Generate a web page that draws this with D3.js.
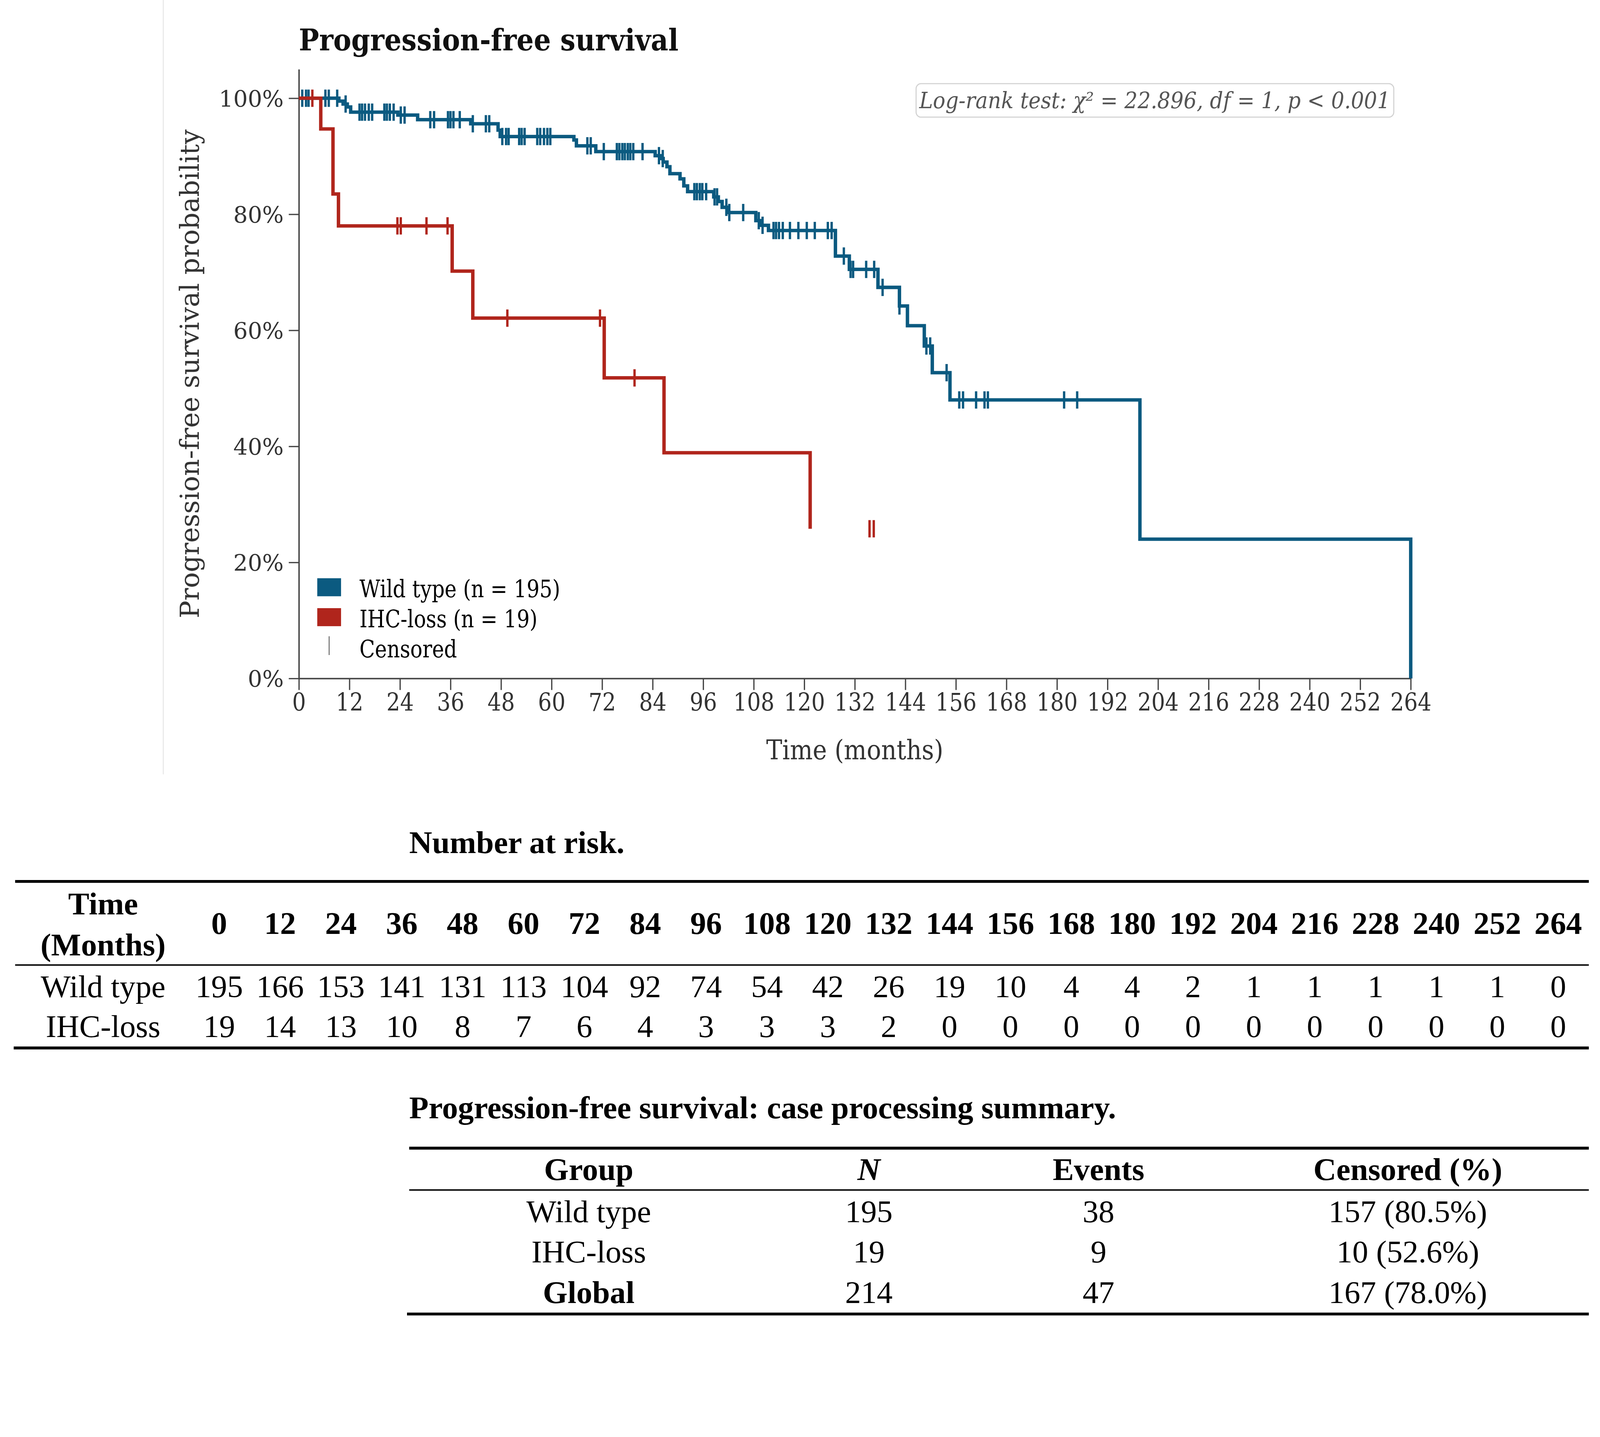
<!DOCTYPE html>
<html>
<head>
<meta charset="utf-8">
<script src="https://cdn.jsdelivr.net/npm/d3@7"></script>
<style>
  html, body { margin: 0; padding: 0; background: #fff; overflow: hidden; }
  svg { display: block; width: 100vw; height: 100vh; }
  .chart text { font-family: 'DejaVu Serif', serif; }
  .tbl text { font-family: 'Liberation Serif', 'Times New Roman', serif; fill: #000; }
</style>
</head>
<body>
<script>
// ---- data ----
// Kaplan-Meier steps: [month, survival after the event]
const wildSteps = [
  [9.5, 0.995], [10.5, 0.990], [11.5, 0.985], [12.3, 0.976], [23.5, 0.971],
  [28.2, 0.963], [40.8, 0.956], [47.3, 0.945], [47.8, 0.934], [65.3, 0.928],
  [65.9, 0.918], [70.5, 0.908], [84.6, 0.901], [85.8, 0.896], [86.5, 0.890],
  [87.4, 0.882], [88.1, 0.870], [90.5, 0.861], [91.4, 0.849], [92.3, 0.839],
  [98.5, 0.830], [99.6, 0.822], [100.5, 0.812], [101.8, 0.803], [108.5, 0.789],
  [109.7, 0.781], [111.5, 0.772], [127.4, 0.728], [130.7, 0.705], [137.5, 0.674],
  [142.6, 0.642], [144.5, 0.608], [148.5, 0.573], [150.4, 0.527], [154.6, 0.480],
  [199.7, 0.240], [264, 0]
]
const wildCensored = [
  0.8, 1.7, 2.3, 6.3, 7.1, 9.1, 11.1, 14.4, 15.0, 15.7, 16.6, 17.4, 20.3, 20.9,
  21.6, 22.5, 24.2, 25.1, 31.2, 32.1, 35.4, 36.0, 36.7, 38.2, 41.3, 44.4, 45.2,
  48.3, 49.2, 49.8, 52.3, 52.9, 53.6, 56.6, 57.3, 58.2, 59.0, 59.7, 68.5, 69.3,
  72.4, 75.5, 76.1, 76.8, 77.4, 78.1, 78.7, 79.4, 81.6, 85.5, 86.4, 93.9, 94.5,
  95.2, 95.8, 96.7, 98.7, 99.3, 101.5, 102.2, 105.5, 109.2, 110.1, 112.7, 113.3,
  114.0, 114.9, 116.6, 118.6, 120.6, 122.5, 125.6, 126.5, 129.4, 131.0, 131.6,
  134.7, 136.6, 138.6, 142.6, 149.0, 149.9, 153.8, 156.8, 157.7, 160.8, 162.8,
  163.6, 181.7, 184.8
]
const ihcSteps = [
  [5.2, 0.947], [8.1, 0.835], [9.4, 0.780], [36.4, 0.702], [41.3, 0.621],
  [72.5, 0.518], [86.7, 0.389], [121.4, 0.258]
]
const ihcCensored = [3.2, 23.4, 24.2, 30.3, 35.3, 49.5, 71.5, 79.7, 135.5, 136.5]

const timeTicks = [0, 12, 24, 36, 48, 60, 72, 84, 96, 108, 120, 132, 144, 156, 168, 180, 192, 204, 216, 228, 240, 252, 264]
const survTicks = [0, 0.2, 0.4, 0.6, 0.8, 1.0]

const riskWild = [195, 166, 153, 141, 131, 113, 104, 92, 74, 54, 42, 26, 19, 10, 4, 4, 2, 1, 1, 1, 1, 1, 0]
const riskIhc = [19, 14, 13, 10, 8, 7, 6, 4, 3, 3, 3, 2, 0, 0, 0, 0, 0, 0, 0, 0, 0, 0, 0]

const summaryGroups = ['Wild type', 'IHC-loss', 'Global']
const summaryN = [195, 19, 214]
const summaryEvents = [38, 9, 47]
const summaryCensored = ['157 (80.5%)', '10 (52.6%)', '167 (78.0%)']

const groups = [
  { name: 'Wild type (n = 195)', color: '#0b5a80', steps: wildSteps, censored: wildCensored },
  { name: 'IHC-loss (n = 19)', color: '#b0251c', steps: ihcSteps, censored: ihcCensored }
]

// ---- drawing ----
const W = 4438, H = 3679
const svg = d3.select('body').append('svg')
  .attr('viewBox', `0 0 ${W} ${H}`)
  .attr('preserveAspectRatio', 'xMinYMin meet')

// the figure's text looks horizontally squeezed
function squeezed(g, px, py, sx) {
  return g.append('text').attr('transform', `translate(${px},${py}) scale(${sx},1)`)
}

// faint edge of the pasted figure
svg.append('line')
  .attr('x1', 453).attr('x2', 453).attr('y1', 0).attr('y2', 2148)
  .attr('stroke', '#e8e8e8').attr('stroke-width', 3)

const chart = svg.append('g').attr('class', 'chart')
const x = d3.scaleLinear().domain([0, 264]).range([829, 3913])
const y = d3.scaleLinear().domain([0, 1.05]).range([1882, 192])

function survAt(steps, t) {
  let s = 1
  for (const [tt, v] of steps) { if (tt <= t) s = v }
  return s
}

squeezed(chart, 829, 140, 0.89)
  .attr('font-size', 84).attr('font-weight', 'bold').attr('fill', '#111')
  .text('Progression-free survival')

// axes
const xAxis = chart.append('g')
  .attr('transform', `translate(0,${y(0)})`)
  .call(d3.axisBottom(x).tickValues(timeTicks).tickSize(32).tickSizeOuter(0).tickPadding(10))
const yAxis = chart.append('g')
  .attr('transform', `translate(${x(0)},0)`)
  .call(d3.axisLeft(y).tickValues(survTicks).tickFormat(d3.format('.0%')).tickSize(28).tickSizeOuter(0).tickPadding(14))

for (const ax of [xAxis, yAxis]) {
  ax.select('.domain').attr('stroke', '#444').attr('stroke-width', 4)
  ax.selectAll('.tick line').attr('stroke', '#444').attr('stroke-width', 3.5)
  ax.selectAll('.tick text').attr('fill', '#333').attr('font-family', null)
}
xAxis.selectAll('.tick text').attr('font-size', 68).attr('transform', 'scale(0.88,1)')
yAxis.selectAll('.tick text').attr('font-size', 63).attr('dy', '0.36em')

squeezed(chart, 2371, 2106, 0.9)
  .attr('text-anchor', 'middle').attr('font-size', 74).attr('fill', '#333')
  .text('Time (months)')

chart.append('text')
  .attr('transform', 'translate(552,1037) rotate(-90)')
  .attr('text-anchor', 'middle').attr('font-size', 73).attr('fill', '#333')
  .text('Progression-free survival probability')

// survival curves
const line = d3.line().x(d => x(d[0])).y(d => y(d[1])).curve(d3.curveStepAfter)

groups.forEach(g => {
  const pts = [[0, 1]].concat(g.steps)
  chart.append('path')
    .datum(pts)
    .attr('d', line)
    .attr('fill', 'none')
    .attr('stroke', g.color)
    .attr('stroke-width', 9.5)
    .attr('stroke-linejoin', 'miter')

  chart.append('g')
    .selectAll('line')
    .data(g.censored)
    .join('line')
    .attr('x1', d => x(d)).attr('x2', d => x(d))
    .attr('y1', d => y(survAt(g.steps, d)) - 24)
    .attr('y2', d => y(survAt(g.steps, d)) + 24)
    .attr('stroke', g.color)
    .attr('stroke-width', 6.5)
})

// log-rank box
const lr = chart.append('g')
lr.append('rect')
  .attr('x', 2541).attr('y', 232).attr('width', 1325).attr('height', 93)
  .attr('rx', 14)
  .attr('fill', '#fff').attr('stroke', '#d2d2d2').attr('stroke-width', 3)
squeezed(lr, 3203, 300, 0.91)
  .attr('text-anchor', 'middle').attr('font-size', 63).attr('font-style', 'italic').attr('fill', '#555')
  .text('Log-rank test: χ² = 22.896, df = 1, p < 0.001')

// legend
const legend = chart.append('g').attr('transform', 'translate(880,1604)')
groups.forEach((g, i) => {
  legend.append('rect')
    .attr('x', 0).attr('y', i * 83).attr('width', 66).attr('height', 50)
    .attr('fill', g.color)
  squeezed(legend, 117, i * 83 + 53, 0.85)
    .attr('font-family', "'Liberation Serif', serif").attr('font-size', 66).attr('fill', '#000')
    .text(g.name)
})
legend.append('line')
  .attr('x1', 33).attr('x2', 33).attr('y1', 161).attr('y2', 213)
  .attr('stroke', '#777').attr('stroke-width', 3)
squeezed(legend, 117, 2 * 83 + 53, 0.85)
  .attr('font-family', "'Liberation Serif', serif").attr('font-size', 66).attr('fill', '#000')
  .text('Censored')

// ---- number at risk table ----
const tbl = svg.append('g').attr('class', 'tbl')
const fs = 88
const col = d3.scalePoint().domain(timeTicks).range([608, 4322])
const labelX = 286

tbl.append('text').attr('x', 1135).attr('y', 2366)
  .attr('font-size', fs).attr('font-weight', 'bold').text('Number at risk.')

function rule(g, x1, x2, yy, w) {
  g.append('line').attr('x1', x1).attr('x2', x2).attr('y1', yy).attr('y2', yy)
    .attr('stroke', '#000').attr('stroke-width', w)
}
rule(tbl, 42, 4407, 2445, 8)
rule(tbl, 42, 4407, 2677, 4)
rule(tbl, 38, 4407, 2907, 8)

tbl.append('text').attr('x', labelX).attr('y', 2536).attr('text-anchor', 'middle')
  .attr('font-size', fs).attr('font-weight', 'bold').text('Time')
tbl.append('text').attr('x', labelX).attr('y', 2650).attr('text-anchor', 'middle')
  .attr('font-size', fs).attr('font-weight', 'bold').text('(Months)')

tbl.append('g').selectAll('text').data(timeTicks).join('text')
  .attr('x', d => col(d)).attr('y', 2591).attr('text-anchor', 'middle')
  .attr('font-size', fs).attr('font-weight', 'bold').text(d => d)

const riskRows = [['Wild type', riskWild, 2766], ['IHC-loss', riskIhc, 2877]]
riskRows.forEach(([name, vals, yy]) => {
  tbl.append('text').attr('x', labelX).attr('y', yy).attr('text-anchor', 'middle')
    .attr('font-size', fs).text(name)
  tbl.append('g').selectAll('text').data(vals).join('text')
    .attr('x', (d, i) => col(timeTicks[i])).attr('y', yy).attr('text-anchor', 'middle')
    .attr('font-size', fs).text(d => d)
})

// ---- case processing summary ----
tbl.append('text').attr('x', 1135).attr('y', 3102)
  .attr('font-size', fs).attr('font-weight', 'bold')
  .text('Progression-free survival: case processing summary.')

rule(tbl, 1135, 4407, 3185, 8)
rule(tbl, 1135, 4407, 3301, 4)
rule(tbl, 1129, 4407, 3645, 8)

const sumCols = [1633, 2410, 3047, 3905]
const headers = ['Group', 'N', 'Events', 'Censored (%)']
headers.forEach((h, i) => {
  tbl.append('text').attr('x', sumCols[i]).attr('y', 3273).attr('text-anchor', 'middle')
    .attr('font-size', fs).attr('font-weight', 'bold')
    .attr('font-style', h === 'N' ? 'italic' : 'normal')
    .text(h)
})
const rowY = [3390, 3502, 3615]
summaryGroups.forEach((gname, r) => {
  const cells = [gname, summaryN[r], summaryEvents[r], summaryCensored[r]]
  cells.forEach((c, i) => {
    tbl.append('text').attr('x', sumCols[i]).attr('y', rowY[r]).attr('text-anchor', 'middle')
      .attr('font-size', fs)
      .attr('font-weight', i === 0 && gname === 'Global' ? 'bold' : 'normal')
      .text(c)
  })
})
</script>
</body>
</html>
